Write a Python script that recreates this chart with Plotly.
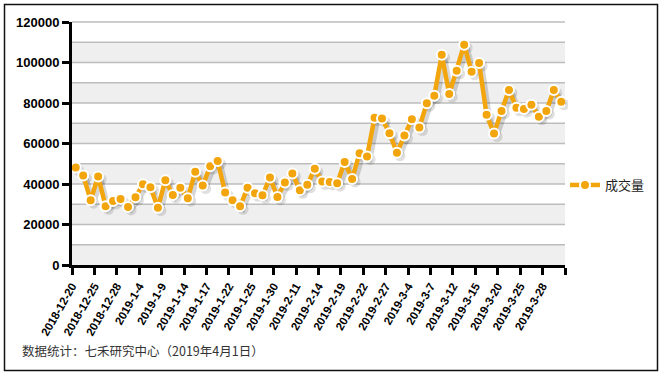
import plotly.graph_objects as go

dates = [
    "2018-12-20", "2018-12-21", "2018-12-24", "2018-12-25", "2018-12-26", "2018-12-27", "2018-12-28",
    "2019-1-2", "2019-1-3", "2019-1-4", "2019-1-7", "2019-1-8", "2019-1-9", "2019-1-10", "2019-1-11",
    "2019-1-14", "2019-1-15", "2019-1-16", "2019-1-17", "2019-1-18", "2019-1-21", "2019-1-22",
    "2019-1-23", "2019-1-24", "2019-1-25", "2019-1-28", "2019-1-29", "2019-1-30", "2019-1-31",
    "2019-2-1", "2019-2-11", "2019-2-12", "2019-2-13", "2019-2-14", "2019-2-15", "2019-2-18",
    "2019-2-19", "2019-2-20", "2019-2-21", "2019-2-22", "2019-2-25", "2019-2-26", "2019-2-27",
    "2019-2-28", "2019-3-1", "2019-3-4", "2019-3-5", "2019-3-6", "2019-3-7", "2019-3-8",
    "2019-3-11", "2019-3-12", "2019-3-13", "2019-3-14", "2019-3-15", "2019-3-18", "2019-3-19",
    "2019-3-20", "2019-3-21", "2019-3-22", "2019-3-25", "2019-3-26", "2019-3-27", "2019-3-28",
    "2019-3-29", "2019-4-1",
]

volume = [
    48100, 44200, 32000, 43700, 29000, 31600, 32600, 28700, 33500, 39900,
    38400, 28300, 41900, 34600, 38100, 33000, 46100, 39200, 48800, 51300,
    35800, 32000, 29000, 38100, 35400, 34400, 43200, 33600, 40700, 45200,
    36900, 39600, 47500, 41200, 41000, 40400, 50900, 42500, 55200, 53600,
    72700, 72300, 65100, 55400, 63900, 72000, 67900, 79900, 83600, 103800,
    84400, 95900, 108800, 95400, 99700, 74200, 64900, 76100, 86400, 77600,
    77000, 79100, 73200, 76000, 86400, 80600,
]

series_name = "成交量"
y_ticks = [0, 20000, 40000, 60000, 80000, 100000, 120000]
label_step = 3
footer = "数据统计：七禾研究中心（2019年4月1日）"

# ---- layout geometry (pixels) ----
W, H = 664, 374
PL, PR, PT, PB = 72, 565, 22, 265      # visible plot area
SH = 3                                  # shadow offset in px
ML, MR, MT, MB = PL, W - (PR + SH), PT, H - (PB + SH)
AW = (PR + SH) - PL
AH = (PB + SH) - PT


def xp(px):
    return (px - PL) / AW


def yp(py):
    return ((PB + SH) - py) / AH


n = len(dates)
xs = list(range(n))
ymax = y_ticks[-1]
orange = "#F2A50C"

fig = go.Figure()

# shadow trace (drawn first, on shifted axes)
fig.add_trace(go.Scatter(
    x=xs, y=volume, xaxis="x", yaxis="y", mode="lines+markers",
    line=dict(color="rgba(0,0,0,0.16)", width=5),
    marker=dict(size=11, color="rgba(0,0,0,0.12)"),
    showlegend=False, hoverinfo="skip",
))

# main trace
fig.add_trace(go.Scatter(
    x=xs, y=volume, xaxis="x2", yaxis="y2", mode="lines+markers",
    name=series_name,
    line=dict(color=orange, width=4.5),
    marker=dict(size=10, color=orange, line=dict(color="white", width=2)),
    customdata=dates, hovertemplate="%{customdata}: %{y}<extra></extra>",
))

# bands and gridlines as paper shapes under everything
shapes = []
step = 10000
x0p, x1p = xp(PL), xp(PR)


def yv(v):
    return yp(PB - v / ymax * (PB - PT))


k = 0
v = 0
while v < ymax:
    if k % 2 == 0:
        shapes.append(dict(type="rect", xref="paper", yref="paper", x0=x0p, x1=x1p,
                           y0=yv(v), y1=yv(v + step), fillcolor="#EFEFEF",
                           line=dict(width=0), layer="below"))
    v += step
    k += 1
v = step
while v <= ymax:
    shapes.append(dict(type="line", xref="paper", yref="paper", x0=x0p, x1=x1p,
                       y0=yv(v), y1=yv(v), line=dict(color="#BDBDBD", width=1.5),
                       layer="below"))
    v += step

# outer border
shapes.append(dict(type="rect", xref="paper", yref="paper",
                   x0=xp(4.5), x1=xp(657.5), y0=yp(370.5), y1=yp(4.5),
                   line=dict(color="#111111", width=1.5), fillcolor="rgba(0,0,0,0)",
                   layer="above"))

tick_idx = list(range(0, n + 1, label_step))
tickvals = [i - 0.5 for i in tick_idx]
ticktext = [dates[i] if i < n else "" for i in tick_idx]

axis_font = dict(family="Liberation Sans, Arial", size=13, color="black", weight="bold")

fig.update_layout(
    width=W, height=H,
    margin=dict(l=ML, r=MR, t=MT, b=MB, pad=0),
    paper_bgcolor="white",
    plot_bgcolor="rgba(0,0,0,0)",
    shapes=shapes,
    showlegend=True,
    legend=dict(x=xp(565), xanchor="left", y=yp(185), yanchor="middle",
                font=dict(family="Noto Sans CJK SC", size=13, color="#222222"),
                bgcolor="rgba(0,0,0,0)", borderwidth=0),
    annotations=[dict(text=footer, xref="paper", yref="paper",
                      x=xp(20), y=yp(350), xanchor="left", yanchor="middle",
                      showarrow=False,
                      font=dict(family="Noto Sans CJK SC", size=12.5, color="#333333"))],
    xaxis=dict(domain=[xp(PL + SH), 1], range=[-0.5, n - 0.5], visible=False,
               fixedrange=True),
    yaxis=dict(domain=[0, yp(PT + SH)], range=[0, ymax], visible=False,
               fixedrange=True),
    xaxis2=dict(domain=[0, xp(PR)], range=[-0.5, n - 0.5], anchor="y2",
                tickmode="array", tickvals=tickvals, ticktext=ticktext,
                tickangle=-60, ticks="outside", ticklen=7, tickwidth=3, tickcolor="black",
                showline=True, linewidth=3, linecolor="black", showgrid=False,
                zeroline=False, fixedrange=True,
                tickfont=dict(family="Liberation Sans, Arial", size=11.5, color="black",
                              weight="bold")),
    yaxis2=dict(domain=[yp(PB), 1], range=[0, ymax], anchor="x2",
                tickmode="array", tickvals=y_ticks, tickformat="d",
                ticks="outside", ticklen=7, tickwidth=3, tickcolor="black",
                showline=True, linewidth=3, linecolor="black", showgrid=False,
                zeroline=False, fixedrange=True, tickfont=axis_font),
)

fig.write_html("out.html",
               config={"displayModeBar": False},
               post_script="document.body.style.margin='0';document.body.style.padding='0';")
